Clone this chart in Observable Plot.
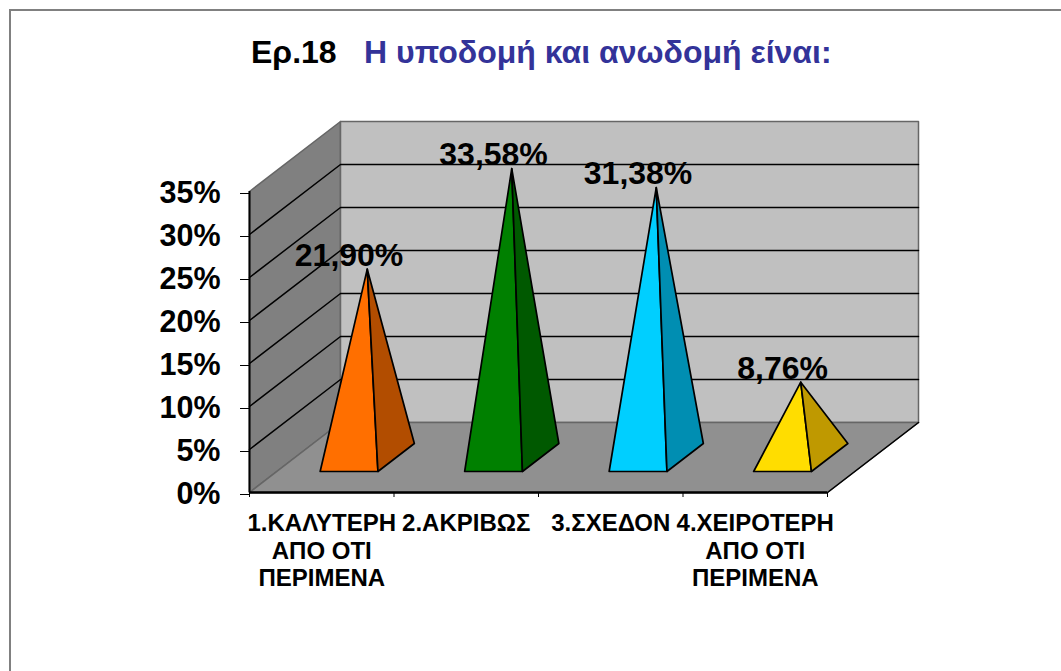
<!DOCTYPE html>
<html>
<head>
<meta charset="utf-8">
<script src="https://cdn.jsdelivr.net/npm/d3@7"></script>
<script src="https://cdn.jsdelivr.net/npm/@observablehq/plot@0.6"></script>
<style>
html,body{margin:0;padding:0;background:#fff;}
#page{position:relative;width:1061px;height:671px;overflow:hidden;font-family:"Liberation Sans",Arial,sans-serif;}
#frame{position:absolute;left:9px;top:9px;width:1060px;height:670px;border-left:2px solid #808080;border-top:2px solid #808080;}
#title{position:absolute;left:0;top:0;width:1061px;height:100px;font-weight:bold;font-size:32px;white-space:pre;}
#title span{position:absolute;top:34px;line-height:36px;}
#chart{position:absolute;left:0;top:100px;}
</style>
</head>
<body>
<div id="page">
<div id="frame"></div>
<div id="title"><span style="left:251px;color:#000">Ερ.18</span><span style="left:364px;color:#333399">Η υποδομή και ανωδομή είναι:</span></div>
<div id="chart"></div>
</div>
<script>
const categories = ["1.ΚΑΛΥΤΕΡΗ\nΑΠΟ ΟΤΙ\nΠΕΡΙΜΕΝΑ","2.ΑΚΡΙΒΩΣ","3.ΣΧΕΔΟΝ","4.ΧΕΙΡΟΤΕΡΗ\nΑΠΟ ΟΤΙ\nΠΕΡΙΜΕΝΑ"];
const values = [21.90, 33.58, 31.38, 8.76];
const valueLabels = ["21,90%","33,58%","31,38%","8,76%"];
const frontColors = ["#FF6F00","#008000","#00CFFF","#FFDD00"];
const sideColors = ["#B24D00","#005900","#008EB2","#BF9900"];
const yTicks = [0,5,10,15,20,25,30,35];
const xTicks = [0,1,2,3,4];

// Oblique projection: depth d in [0,1] shifts along both value axes
const depthX = 91/144.5, depthY = 70/8.6;
const px = (c,d) => c + d*depthX;
const py = (v,d) => v + d*depthY;
const pt = (id,color,c,v,d) => ({id,color,x:px(c,d),y:py(v,d)});
const yMax = 35, n = categories.length;

const walls = [
  pt("side","#808080",0,0,0),pt("side","#808080",0,yMax,0),pt("side","#808080",0,yMax,1),pt("side","#808080",0,0,1),
  pt("back","#C0C0C0",0,0,1),pt("back","#C0C0C0",0,yMax,1),pt("back","#C0C0C0",n,yMax,1),pt("back","#C0C0C0",n,0,1),
  pt("floor","#909090",0,0,0),pt("floor","#909090",n,0,0),pt("floor","#909090",n,0,1),pt("floor","#909090",0,0,1)
];
const gridRows = yTicks.slice(1,-1).flatMap(v => [
  pt("g"+v,null,0,v,0),pt("g"+v,null,0,v,1),pt("g"+v,null,n,v,1)
]);
const half = 0.2, dFront = 0.3, dBack = 0.7, dApex = 0.5;
const pyramids = values.flatMap((v,i) => {
  const c = i + 0.5;
  return [
    pt("f"+i,frontColors[i],c-half,0,dFront),pt("f"+i,frontColors[i],c+half,0,dFront),pt("f"+i,frontColors[i],c,v,dApex),
    pt("s"+i,sideColors[i],c+half,0,dFront),pt("s"+i,sideColors[i],c+half,0,dBack),pt("s"+i,sideColors[i],c,v,dApex)
  ];
});
const labelRows = values.map((v,i) => ({x:px(i+0.5,dFront),y:py(v,dApex),t:valueLabels[i]}));
const catRows = categories.map((t,i) => ({x:i+0.5,t}));

const font = '"Liberation Sans",Arial,sans-serif';
const plot = Plot.plot({
  width:1061, height:571,
  marginLeft:249, marginRight:143, marginTop:21, marginBottom:179,
  style:{background:"transparent",fontFamily:font},
  x:{domain:[0,n+depthX],axis:null},
  y:{domain:[0,yMax+depthY],axis:null},
  color:{type:"identity"},
  marks:[
    Plot.line(walls,{x:"x",y:"y",z:"id",fill:"color",stroke:"#666",strokeWidth:1.5,curve:"linear-closed"}),
    Plot.line(gridRows,{x:"x",y:"y",z:"id",stroke:"#000",strokeWidth:1.5}),
    Plot.line(pyramids,{x:"x",y:"y",z:"id",fill:"color",stroke:"#000",strokeWidth:1.7,strokeLinejoin:"round",curve:"linear-closed"}),
    Plot.ruleX([0],{y1:0,y2:yMax,stroke:"#000",strokeWidth:2}),
    Plot.ruleY([0],{x1:0,x2:n,stroke:"#000",strokeWidth:2.5}),
    Plot.line([pt("e",null,n,0,0),pt("e",null,n,0,1)],{x:"x",y:"y",stroke:"#000",strokeWidth:1.5}),
    Plot.axisY({ticks:yTicks,tickSize:9,tickPadding:20,tickFormat:d=>d+"%",fontSize:30.5,fontWeight:"bold",fill:"#000",stroke:"#000",label:null,dy:2}),
    Plot.axisX({ticks:xTicks,tickSize:5,tickFormat:()=>"",label:null,stroke:"#000"}),
    Plot.text(catRows,{x:"x",y:0,text:"t",dy:19,lineAnchor:"top",lineHeight:1.15,fontSize:24,fontWeight:"bold",fill:"#000"}),
    Plot.text(labelRows,{x:"x",y:"y",text:"t",dy:-13.5,fontSize:32,fontWeight:"bold",fill:"#000"})
  ]
});
document.getElementById("chart").appendChild(plot);
</script>
</body>
</html>
